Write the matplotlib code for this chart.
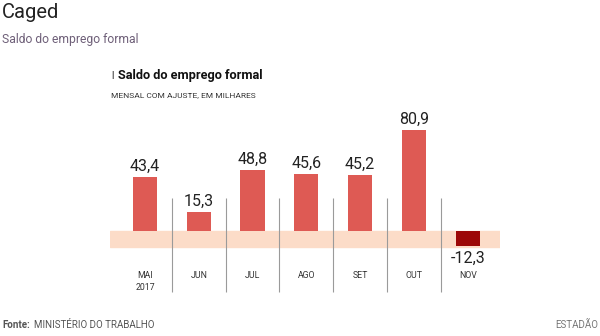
import matplotlib
matplotlib.use("Agg")
import matplotlib.pyplot as plt

months = ["MAI\n2017", "JUN", "JUL", "AGO", "SET", "OUT", "NOV"]
values = [43.4, 15.3, 48.8, 45.6, 45.2, 80.9, -12.3]
value_labels = ["43,4", "15,3", "48,8", "45,6", "45,2", "80,9", "-12,3"]

W, H = 600, 336
fig = plt.figure(figsize=(6, 3.36), dpi=100)
fig.patch.set_facecolor("white")

# axes placement in pixels
left_px, right_px, top_px, bot_px = 110, 500, 60, 300
ax = fig.add_axes([left_px / W, (H - bot_px) / H, (right_px - left_px) / W, (bot_px - top_px) / H])
ax.set_xlim(-0.65, 6.6)
ax.set_ylim(-55.2, 136.8)
ax.axis("off")

ax.axhspan(-12.8, 0, color="#fcdcc8", zorder=0)
for i, v in enumerate(values):
    color = "#de5a54" if v >= 0 else "#9c0808"
    ax.bar(i, v, width=0.45, color=color, zorder=2)
for i in range(len(months) - 1):
    ax.vlines(i + 0.5, -48.8, 26.4, color="#9a9a9a", lw=0.8, zorder=1)

for i, (v, lab) in enumerate(zip(values, value_labels)):
    if v >= 0:
        ax.text(i, v + 2.5, lab, ha="center", va="bottom", fontsize=11.5, color="#222222", family="Roboto")
    else:
        ax.text(i, v - 3.2, lab, ha="center", va="top", fontsize=11.5, color="#222222", family="Roboto")
    ax.text(i, -32.0, months[i], ha="center", va="top", fontsize=6.3, color="#333333",
            family="Roboto", linespacing=1.4)

# Titles
fig.text(2 / W, 1 - 12 / H, "Caged", fontsize=14.5, color="#222222", va="center", ha="left", family="Roboto")
fig.text(2 / W, 1 - 39 / H, "Saldo do emprego formal", fontsize=8.7, color="#6e5f78", va="center", ha="left", family="Roboto")
fig.text(111 / W, 1 - 76 / H, "l", fontsize=7, color="#222222", va="center", ha="left", family="Roboto")
fig.text(118 / W, 1 - 76 / H, "Saldo do emprego formal", fontsize=9.2, fontweight="bold", color="#111111",
         va="center", ha="left", family="Roboto")
fig.text(111 / W, 1 - 95 / H, "MENSAL COM AJUSTE, EM MILHARES", fontsize=6.0, color="#333333",
         va="center", ha="left", family="Roboto")

# Footer
fig.text(2 / W, 1 - 325 / H, "Fonte:", fontsize=7, fontweight="bold", color="#555555", va="center", ha="left", family="Roboto")
fig.text(34 / W, 1 - 325 / H, "MINISTÉRIO DO TRABALHO", fontsize=7, color="#555555", va="center", ha="left", family="Roboto")
fig.text(598 / W, 1 - 325 / H, "ESTADÃO", fontsize=7, color="#777777", va="center", ha="right", family="Roboto")

fig.savefig("out.png", dpi=100, facecolor="white")
